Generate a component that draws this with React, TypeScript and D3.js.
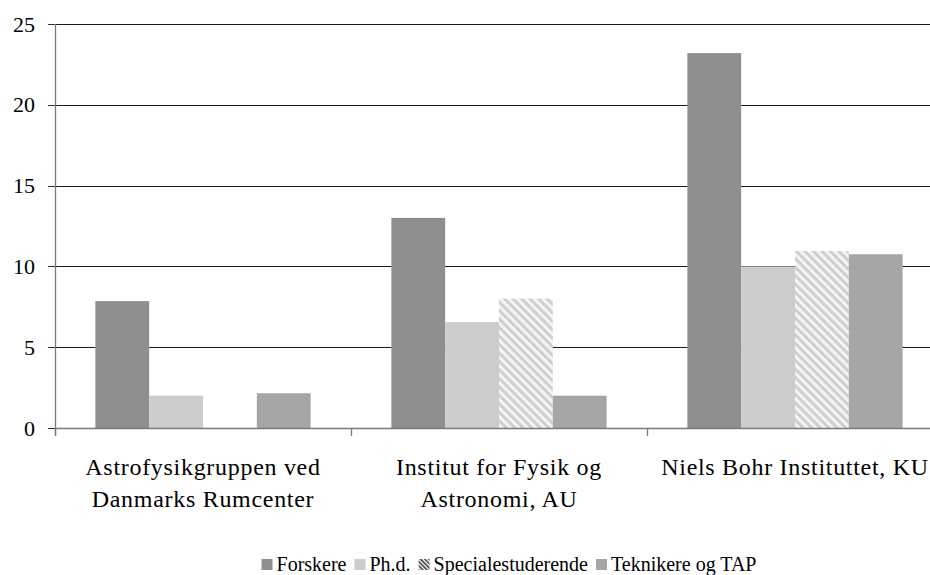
import { useEffect, useRef } from "react";
import * as d3 from "d3";

const categories = [
  ["Astrofysikgruppen ved", "Danmarks Rumcenter"],
  ["Institut for Fysik og", "Astronomi, AU"],
  ["Niels Bohr Instituttet, KU"],
];
const seriesNames = ["Forskere", "Ph.d.", "Specialestuderende", "Teknikere og TAP"];
const forskere = [7.85, 13.0, 23.2];
const phd = [2.0, 6.55, 10.0];
const speciale: (number | null)[] = [null, 8.0, 10.95];
const teknikere = [2.15, 2.0, 10.75];
const yTicks = [0, 5, 10, 15, 20, 25];

const fills = ["#8f8f8f", "#cccccc", "url(#hatch)", "#a6a6a6"];
const legendFills = ["#8f8f8f", "#cccccc", "url(#hatchLegend)", "#a6a6a6"];
const FONT = "Liberation Serif";

const App = () => {
  const svgRef = useRef<SVGSVGElement | null>(null);

  useEffect(() => {
    const svg = d3.select(svgRef.current);
    svg.selectAll("*").remove();

    const width = 930;
    const left = 55,
      right = 943,
      top = 24,
      bottom = 428;

    const defs = svg.append("defs");
    const hatch = defs
      .append("pattern")
      .attr("id", "hatch")
      .attr("patternUnits", "userSpaceOnUse")
      .attr("width", 6)
      .attr("height", 6)
      .attr("patternTransform", "rotate(-45)");
    hatch.append("rect").attr("width", 6).attr("height", 6).attr("fill", "#f4f4f4");
    hatch.append("rect").attr("width", 3).attr("height", 6).attr("fill", "#cfcfcf");

    const hatchL = defs
      .append("pattern")
      .attr("id", "hatchLegend")
      .attr("patternUnits", "userSpaceOnUse")
      .attr("width", 3)
      .attr("height", 3)
      .attr("patternTransform", "rotate(-45)");
    hatchL.append("rect").attr("width", 3).attr("height", 3).attr("fill", "#ffffff");
    hatchL.append("rect").attr("width", 1.5).attr("height", 3).attr("fill", "#333333");

    const x0 = d3
      .scaleBand<number>()
      .domain(d3.range(categories.length))
      .range([left, right])
      .padding(0);
    const x1 = d3
      .scaleBand<number>()
      .domain(d3.range(seriesNames.length))
      .range([0, x0.bandwidth()])
      .paddingInner(0)
      .paddingOuter(0.75);
    const y = d3.scaleLinear().domain([0, 25]).range([bottom, top]);

    // gridlines
    svg
      .append("g")
      .selectAll("line")
      .data(yTicks.filter((t) => t > 0))
      .enter()
      .append("line")
      .attr("x1", left)
      .attr("x2", width)
      .attr("y1", (d) => Math.round(y(d)) + 0.5)
      .attr("y2", (d) => Math.round(y(d)) + 0.5)
      .attr("stroke", "#1a1a1a")
      .attr("stroke-width", 1);

    // bars
    const seriesData = [forskere, phd, speciale, teknikere];
    seriesData.forEach((vals, si) => {
      svg
        .append("g")
        .selectAll("rect")
        .data(vals.map((v, ci) => ({ v, ci })).filter((d) => d.v != null))
        .enter()
        .append("rect")
        .attr("x", (d) => x0(d.ci)! + x1(si)!)
        .attr("y", (d) => y(d.v as number))
        .attr("width", x1.bandwidth())
        .attr("height", (d) => bottom - y(d.v as number))
        .attr("fill", fills[si]);
    });

    // y axis
    const axisColor = "#7a7a7a";
    svg
      .append("line")
      .attr("x1", left + 0.5)
      .attr("x2", left + 0.5)
      .attr("y1", top)
      .attr("y2", bottom + 8)
      .attr("stroke", axisColor)
      .attr("stroke-width", 1.3);
    svg
      .append("g")
      .selectAll("line")
      .data(yTicks)
      .enter()
      .append("line")
      .attr("x1", left - 7)
      .attr("x2", left)
      .attr("y1", (d) => Math.round(y(d)) + 0.5)
      .attr("y2", (d) => Math.round(y(d)) + 0.5)
      .attr("stroke", "#333")
      .attr("stroke-width", 1);
    svg
      .append("g")
      .selectAll("text")
      .data(yTicks)
      .enter()
      .append("text")
      .attr("x", 35)
      .attr("y", (d) => y(d) + 7.5)
      .attr("text-anchor", "end")
      .style("font-family", FONT)
      .style("font-size", "22px")
      .attr("fill", "#000")
      .text((d) => d);

    // x axis
    svg
      .append("line")
      .attr("x1", left)
      .attr("x2", width)
      .attr("y1", bottom + 0.5)
      .attr("y2", bottom + 0.5)
      .attr("stroke", axisColor)
      .attr("stroke-width", 1.6);
    svg
      .append("g")
      .selectAll("line")
      .data(d3.range(categories.length + 1))
      .enter()
      .append("line")
      .attr("x1", (d) => left + d * x0.step() + 0.5)
      .attr("x2", (d) => left + d * x0.step() + 0.5)
      .attr("y1", bottom)
      .attr("y2", bottom + 8)
      .attr("stroke", axisColor)
      .attr("stroke-width", 1.3);

    const catG = svg.append("g");
    categories.forEach((lines, ci) => {
      const t = catG
        .append("text")
        .attr("text-anchor", "middle")
        .style("font-family", FONT)
        .style("font-size", "24px")
        .style("letter-spacing", "0.7px")
        .attr("fill", "#000");
      lines.forEach((ln, li) => {
        t.append("tspan")
          .attr("x", x0(ci)! + x0.bandwidth() / 2)
          .attr("y", 475 + li * 32)
          .text(ln);
      });
    });

    // legend
    const legend = svg.append("g");
    const items = seriesNames.map((name, i) => {
      const g = legend.append("g");
      g.append("rect")
        .attr("x", 0)
        .attr("y", -12)
        .attr("width", 11)
        .attr("height", 11)
        .attr("fill", legendFills[i]);
      const t = g
        .append("text")
        .attr("x", 15)
        .attr("y", 0)
        .style("font-family", FONT)
        .style("font-size", "20px")
        .attr("fill", "#000")
        .text(name);
      const w = 15 + (t.node() as SVGTextElement).getComputedTextLength();
      return { g, w };
    });
    const gap = 8;
    const total = d3.sum(items, (d) => d.w) + gap * (items.length - 1);
    let cx = 509 - total / 2;
    items.forEach((it) => {
      it.g.attr("transform", `translate(${cx},571)`);
      cx += it.w + gap;
    });
  }, []);

  return (
    <svg
      ref={svgRef}
      width={930}
      height={575}
      style={{ position: "absolute", left: 0, top: 0, background: "#fff" }}
    ></svg>
  );
};

export default App;
